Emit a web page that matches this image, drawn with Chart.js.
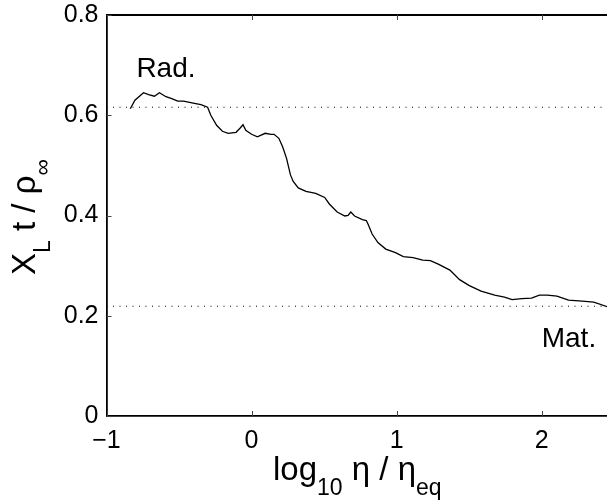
<!DOCTYPE html>
<html>
<head>
    <title>X_L t / rho vs log10 eta</title>
    <script src="https://cdn.jsdelivr.net/npm/chart.js"></script>
    <style>
        body { margin: 0; overflow: hidden; background: #fff; }
    </style>
</head>
<body>

<!-- fixed size box, same as the window -->
<div style="width: 607px; height: 504px; position: relative;">
    <canvas id="xlChart"></canvas>
</div>

<script>
    // values
    const logEta = [-0.836, -0.804, -0.745, -0.710, -0.670, -0.635, -0.590, -0.550, -0.509, -0.469,
        -0.402, -0.349, -0.303, -0.281, -0.241, -0.201, -0.161, -0.107, -0.080, -0.059,
        -0.040, 0.000, 0.040, 0.094, 0.134, 0.155, 0.188, 0.214, 0.241, 0.268,
        0.287, 0.322, 0.375, 0.442, 0.504, 0.536, 0.590, 0.643, 0.665, 0.684,
        0.710, 0.764, 0.791, 0.804, 0.831, 0.871, 0.925, 0.992, 1.046, 1.113,
        1.180, 1.233, 1.287, 1.367, 1.434, 1.501, 1.582, 1.676, 1.743, 1.796,
        1.863, 1.930, 1.984, 2.038, 2.105, 2.185, 2.279, 2.359, 2.461];
    const xlRatio = [0.613, 0.630, 0.645, 0.641, 0.638, 0.645, 0.637, 0.633, 0.628, 0.628,
        0.624, 0.621, 0.616, 0.600, 0.580, 0.568, 0.564, 0.566, 0.574, 0.581,
        0.570, 0.562, 0.557, 0.564, 0.562, 0.562, 0.554, 0.537, 0.514, 0.481,
        0.468, 0.455, 0.448, 0.444, 0.436, 0.423, 0.407, 0.399, 0.400, 0.407,
        0.399, 0.392, 0.390, 0.382, 0.363, 0.346, 0.333, 0.326, 0.318, 0.316,
        0.311, 0.310, 0.303, 0.291, 0.272, 0.260, 0.249, 0.241, 0.237, 0.232,
        0.234, 0.235, 0.241, 0.241, 0.239, 0.231, 0.229, 0.227, 0.217];

    // dotted reference levels (radiation / matter era)
    const radLevel = 0.616;
    const matLevel = 0.219;

    const xTicks = [-1, 0, 1, 2];
    const yTicks = [0, 0.2, 0.4, 0.6, 0.8];

    const eraLabels = ['Rad.', 'Mat.'];
    const eraLabelX = [-0.794, 2.0];
    const eraLabelY = [0.677, 0.137];

    const FONT = '"Liberation Sans", Arial, sans-serif';

    // text with subscripts, drawn left to right from (x, y) baseline
    function drawRich(ctx, parts, x, y) {
        let cx = x;
        parts.forEach(p => {
            ctx.font = (p.sub ? 23 : 33) + 'px ' + FONT;
            ctx.fillText(p.t, cx, y + (p.sub ? 15 : 0));
            cx += ctx.measureText(p.t).width;
        });
    }

    // frame on top, inward ticks, titles and era labels
    const extras = {
        id: 'extras',
        afterDraw(chart) {
            const {ctx, chartArea: a, scales: {x, y}} = chart;
            ctx.save();
            ctx.strokeStyle = '#000';
            ctx.lineWidth = 1.8;
            ctx.beginPath();
            ctx.moveTo(a.left, a.top);
            ctx.lineTo(a.right + 2, a.top);
            ctx.stroke();

            ctx.lineWidth = 1;
            ctx.strokeStyle = '#444';
            ctx.beginPath();
            xTicks.forEach(v => {
                const px = Math.round(x.getPixelForValue(v)) + 0.5;
                ctx.moveTo(px, a.bottom); ctx.lineTo(px, a.bottom - 5);
                ctx.moveTo(px, a.top); ctx.lineTo(px, a.top + 5);
            });
            yTicks.forEach(v => {
                const py = Math.round(y.getPixelForValue(v)) + 0.5;
                ctx.moveTo(a.left, py); ctx.lineTo(a.left + 5, py);
            });
            ctx.stroke();

            ctx.fillStyle = '#000';
            ctx.textAlign = 'left';
            ctx.textBaseline = 'alphabetic';

            // era labels
            ctx.font = '28px ' + FONT;
            eraLabels.forEach((t, i) => {
                ctx.fillText(t, x.getPixelForValue(eraLabelX[i]), y.getPixelForValue(eraLabelY[i]));
            });

            // x axis title
            drawRich(ctx, [{t: 'log'}, {t: '10', sub: true}, {t: ' \u03b7 / \u03b7'}, {t: 'eq', sub: true}], 273, 480);

            // y axis title, rotated
            ctx.translate(35, 275);
            ctx.rotate(-Math.PI / 2);
            drawRich(ctx, [{t: 'X'}, {t: 'L', sub: true}, {t: ' t / \u03c1'}, {t: '\u221e', sub: true}], 0, 0);
            ctx.restore();
        }
    };

    new Chart(document.getElementById('xlChart'), {
        type: 'scatter',
        data: {
            datasets: [{
                label: 'X_L t / rho',
                data: logEta.map((v, i) => ({x: v, y: xlRatio[i]})),
                showLine: true,
                borderColor: '#000',
                borderWidth: 1.3,
                pointRadius: 0,
                tension: 0
            }, {
                label: 'radiation',
                data: [{x: -1, y: radLevel}, {x: 2.5, y: radLevel}],
                showLine: true,
                borderColor: '#000',
                borderWidth: 1,
                borderDash: [1, 5.5],
                pointRadius: 0
            }, {
                label: 'matter',
                data: [{x: -1, y: matLevel}, {x: 2.5, y: matLevel}],
                showLine: true,
                borderColor: '#000',
                borderWidth: 1,
                borderDash: [1, 5.5],
                pointRadius: 0
            }]
        },
        options: {
            responsive: true,
            maintainAspectRatio: false,
            animation: false,
            layout: { padding: { top: 12, left: 0, right: 0, bottom: 0 } },
            plugins: {
                legend: { display: false },
                tooltip: { enabled: false }
            },
            scales: {
                x: {
                    type: 'linear',
                    min: -1,
                    max: 2.45,
                    afterBuildTicks: scale => { scale.ticks = xTicks.map(v => ({value: v})); },
                    afterFit: scale => { scale.height = 88; },
                    grid: { display: false },
                    border: { display: true, color: '#000', width: 1.8 },
                    ticks: {
                        padding: 2,
                        color: '#000',
                        font: { family: FONT, size: 25 },
                        callback: v => (v < 0 ? '\u2212' + Math.abs(v) : String(v))
                    }
                },
                y: {
                    min: 0,
                    max: 0.8,
                    afterBuildTicks: scale => { scale.ticks = yTicks.map(v => ({value: v})); },
                    afterFit: scale => { scale.width = 106.5; },
                    grid: { display: false },
                    border: { display: true, color: '#000', width: 1.8 },
                    ticks: {
                        padding: 0,
                        color: '#000',
                        font: { family: FONT, size: 25 },
                        callback: v => String(Math.round(v * 10) / 10)
                    }
                }
            }
        },
        plugins: [extras]
    });
</script>
</body>
</html>
